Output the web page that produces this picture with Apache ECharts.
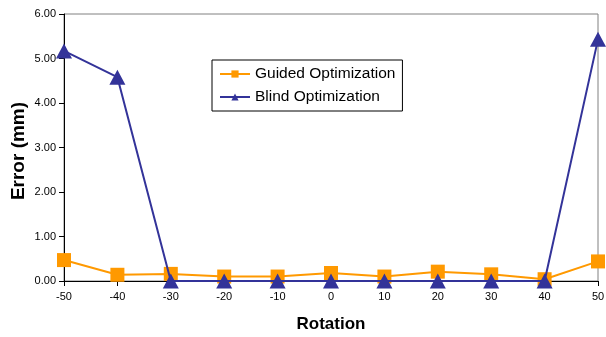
<!DOCTYPE html>
<html>
<head>
<meta charset="utf-8">
<script src="https://cdn.jsdelivr.net/npm/echarts@6/dist/echarts.min.js"></script>
<style>
html,body{margin:0;padding:0;background:#fff;}
#chart{width:606px;height:337px;}
</style>
</head>
<body>
<div id="chart"></div>
<script>
// Rotation angles (degrees) and error per method (mm)
const rotations = [-50, -40, -30, -20, -10, 0, 10, 20, 30, 40, 50];
const guided = [0.47, 0.14, 0.16, 0.10, 0.10, 0.18, 0.10, 0.21, 0.15, 0.04, 0.44];
const blind = [5.17, 4.58, 0.00, 0.00, 0.00, 0.00, 0.00, 0.00, 0.00, 0.00, 5.43];

const FONT = '"Liberation Sans", Arial, sans-serif';

const chart = echarts.init(document.getElementById('chart'), null, {renderer: 'canvas'});
chart.setOption({
  animation: false,
  backgroundColor: '#fff',
  textStyle: {fontFamily: FONT},
  grid: {
    left: 64, right: 8, top: 14, bottom: 56,
    outerBoundsMode: 'none',
    containLabel: false,
    show: true, borderColor: '#808080', borderWidth: 1
  },
  legend: {
    left: 212, top: 60,
    orient: 'vertical',
    itemGap: 7,
    itemWidth: 30, itemHeight: 9,
    padding: [6, 7, 6, 7],
    borderColor: '#000', borderWidth: 1, borderRadius: 0,
    backgroundColor: '#fff',
    textStyle: {fontFamily: FONT, fontSize: 15.5, color: '#000', padding: [0, 0, 0, 0]},
    data: ['Guided Optimization', 'Blind Optimization']
  },
  xAxis: {
    type: 'value', min: -50, max: 50, interval: 10,
    name: 'Rotation', nameLocation: 'middle', nameGap: 35,
    nameTextStyle: {fontFamily: FONT, fontWeight: 'bold', fontSize: 17, color: '#000'},
    axisLine: {onZero: false, lineStyle: {color: '#000', width: 1}},
    axisTick: {show: true, length: 5, lineStyle: {color: '#000'}},
    axisLabel: {fontFamily: FONT, fontSize: 11, color: '#000', margin: 10},
    splitLine: {show: false}
  },
  yAxis: {
    type: 'value', min: 0, max: 6, interval: 1,
    name: 'Error (mm)', nameLocation: 'middle', nameGap: 36, nameRotate: 90,
    nameMoveOverlap: false,
    nameTextStyle: {fontFamily: FONT, fontWeight: 'bold', fontSize: 19, color: '#000',
      padding: [0, 7, 0, 0]},
    axisLine: {show: true, onZero: false, lineStyle: {color: '#000', width: 1}},
    axisTick: {show: true, length: 5, lineStyle: {color: '#000'}},
    axisLabel: {fontFamily: FONT, fontSize: 11, color: '#000', margin: 8,
      formatter: v => v.toFixed(2)},
    splitLine: {show: false}
  },
  series: [
    {
      name: 'Guided Optimization', type: 'line',
      data: rotations.map((r, i) => [r, guided[i]]),
      symbol: 'rect', symbolSize: 14,
      itemStyle: {color: '#FF9900'},
      lineStyle: {color: '#FF9900', width: 2},
      z: 2
    },
    {
      name: 'Blind Optimization', type: 'line',
      data: rotations.map((r, i) => [r, blind[i]]),
      symbol: 'triangle', symbolSize: [16, 15],
      itemStyle: {color: '#333399'},
      lineStyle: {color: '#333399', width: 2},
      z: 3
    }
  ]
});
</script>
</body>
</html>
